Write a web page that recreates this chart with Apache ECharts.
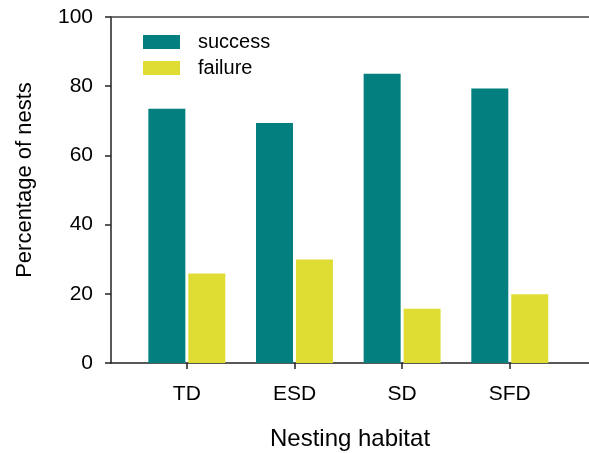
<!DOCTYPE html>
<html>
<head>
<meta charset="utf-8">
<script src="https://cdn.jsdelivr.net/npm/echarts@6/dist/echarts.min.js"></script>
<style>html,body{margin:0;padding:0;background:#fff}#c{width:589px;height:453px}</style>
</head>
<body>
<div id="c"></div>
<script>
var categories = ['TD', 'ESD', 'SD', 'SFD'];
var successValues = [73.5, 69.4, 83.6, 79.3];
var failureValues = [25.9, 29.9, 15.7, 19.9];
var yTicks = [0, 20, 40, 60, 80, 100];

var FONT = '"Liberation Sans", Arial, sans-serif';
var chart = echarts.init(document.getElementById('c'), null, {renderer: 'canvas'});
chart.setOption({
  animation: false,
  backgroundColor: '#fff',
  textStyle: {fontFamily: FONT},
  legend: {
    orient: 'vertical', left: 143, top: 32, padding: 0,
    itemWidth: 37, itemHeight: 14, itemGap: 6,
    icon: 'rect',
    textStyle: {fontSize: 20, color: '#000', fontFamily: FONT, padding: [0, 0, 0, 13]},
    data: ['success', 'failure']
  },
  grid: [
    {left: 111, right: 0, top: 17, bottom: 90, containLabel: false, outerBoundsMode: 'none'},
    {left: 133, width: 430.6, top: 17, bottom: 90, containLabel: false, outerBoundsMode: 'none'}
  ],
  xAxis: [
    {gridIndex: 0, type: 'value', min: 0, max: 1, position: 'bottom',
     axisLine: {show: true, lineStyle: {color: '#222', width: 1.5}},
     axisTick: {show: false}, axisLabel: {show: false}, splitLine: {show: false},
     name: 'Nesting habitat', nameLocation: 'middle', nameGap: 64,
     nameTextStyle: {fontSize: 24, color: '#000', fontFamily: FONT}},
    {gridIndex: 0, type: 'value', min: 0, max: 1, position: 'top',
     axisLine: {show: true, lineStyle: {color: '#444', width: 1.5}},
     axisTick: {show: false}, axisLabel: {show: false}, splitLine: {show: false}},
    {gridIndex: 1, type: 'category', data: categories,
     axisLine: {show: false},
     axisTick: {show: true, alignWithLabel: true, length: 6, lineStyle: {color: '#222', width: 1.5}},
     axisLabel: {fontSize: 21, color: '#000', margin: 21, fontFamily: FONT}}
  ],
  yAxis: [
    {gridIndex: 0, type: 'value', min: 0, max: 100, interval: 20,
     axisLine: {show: true, lineStyle: {color: '#222', width: 1.5}},
     axisTick: {show: true, length: 6, lineStyle: {color: '#222', width: 1.5}},
     axisLabel: {fontSize: 21, color: '#000', margin: 18, fontFamily: FONT},
     splitLine: {show: false},
     name: 'Percentage of nests', nameLocation: 'middle', nameGap: 75,
     nameTextStyle: {fontSize: 22, color: '#000', fontFamily: FONT, padding: [0, 0, 0, 20]}},
    {gridIndex: 1, type: 'value', min: 0, max: 100, show: false}
  ],
  series: [
    {name: 'success', type: 'bar', xAxisIndex: 2, yAxisIndex: 1, data: successValues,
     barWidth: 37, barGap: '8%', itemStyle: {color: '#027f7e'}},
    {name: 'failure', type: 'bar', xAxisIndex: 2, yAxisIndex: 1, data: failureValues,
     barWidth: 37, barGap: '8%', itemStyle: {color: '#dfdd33'}}
  ]
});
</script>
</body>
</html>
